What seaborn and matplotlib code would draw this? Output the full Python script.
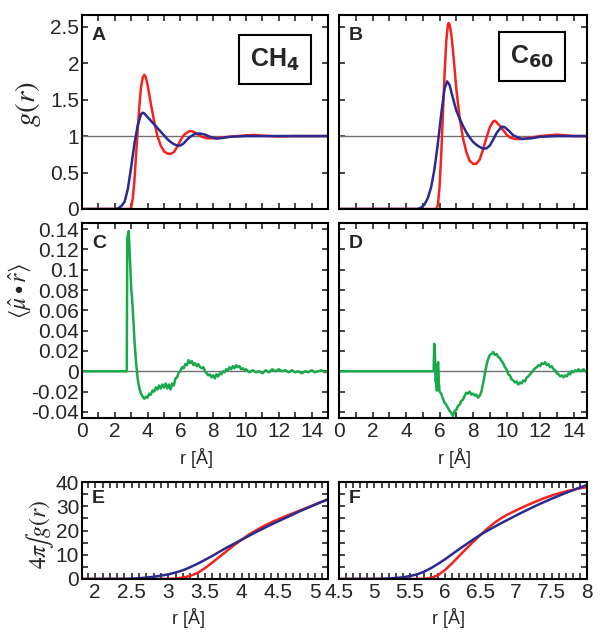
import matplotlib
matplotlib.use('Agg')
import matplotlib.pyplot as plt
import seaborn as sns
from matplotlib.ticker import MultipleLocator, FuncFormatter

sns.set_theme(style='ticks')
plt.rcParams['font.family'] = ['Liberation Sans', 'DejaVu Sans']
plt.rcParams.update({
    'axes.linewidth': 1.5,
    'axes.edgecolor': 'black',
    'xtick.direction': 'in',
    'ytick.direction': 'in',
    'xtick.top': True,
    'ytick.right': True,
    'xtick.major.size': 4.5,
    'ytick.major.size': 4.5,
    'xtick.minor.size': 4.5,
    'ytick.minor.size': 4.5,
    'xtick.major.width': 1.2,
    'ytick.major.width': 1.2,
    'xtick.minor.width': 1.2,
    'ytick.minor.width': 1.2,
    'xtick.labelsize': 15,
    'ytick.labelsize': 15,
    'xtick.major.pad': 3,
    'ytick.major.pad': 2,
})

RED = '#f5231e'
BLUE = '#2a2a90'
GREEN = '#1aa94a'
GREY = '#707070'

# --- panel A: g(r) CH4 ---
a_red_r = [0, 2.9, 3.0, 3.1, 3.2, 3.3, 3.4, 3.5, 3.6, 3.7, 3.8, 3.9, 4.0, 4.1, 4.2, 4.4, 4.6, 4.8,
           5.0, 5.2, 5.4, 5.6, 5.8, 6.0, 6.2, 6.4, 6.6, 6.8, 7.0, 7.3, 7.6, 8.0, 8.5, 9.0, 9.5,
           10.0, 10.5, 11.0, 12.0, 13.0, 14.0, 15.0]
a_red_g = [0, 0, 0.02, 0.15, 0.4, 0.75, 1.1, 1.42, 1.67, 1.8, 1.84, 1.8, 1.7, 1.57, 1.44, 1.2, 1.0, 0.87,
           0.79, 0.76, 0.755, 0.78, 0.85, 0.94, 1.01, 1.05, 1.07, 1.06, 1.03, 0.99, 0.97, 0.97, 0.98, 0.99, 1.0,
           1.01, 1.015, 1.005, 0.995, 1.0, 1.0, 1.0]
a_blue_r = [0, 2.0, 2.2, 2.4, 2.6, 2.8, 3.0, 3.2, 3.4, 3.6, 3.7, 3.8, 4.0, 4.2, 4.4, 4.6, 4.8, 5.0,
            5.2, 5.4, 5.6, 5.8, 6.0, 6.2, 6.4, 6.6, 6.8, 7.0, 7.2, 7.5, 7.8, 8.2, 8.6, 9.0, 10, 11,
            12, 13, 14, 15]
a_blue_g = [0, 0, 0.01, 0.04, 0.1, 0.28, 0.58, 0.9, 1.15, 1.3, 1.32, 1.31, 1.26, 1.21, 1.16, 1.11, 1.06, 1.01,
            0.96, 0.92, 0.89, 0.87, 0.87, 0.9, 0.95, 0.99, 1.02, 1.035, 1.035, 1.02, 0.99, 0.965, 0.975, 0.99, 1.0, 1.0,
            1.0, 1.0, 1.0, 1.0]

# --- panel B: g(r) C60 ---
b_red_r = [0, 5.8, 5.9, 6.0, 6.1, 6.2, 6.3, 6.4, 6.5, 6.55, 6.6, 6.7, 6.8, 6.9, 7.0, 7.2, 7.4, 7.6, 7.8,
           8.0, 8.2, 8.4, 8.6, 8.8, 9.0, 9.2, 9.3, 9.4, 9.6, 9.8, 10.0, 10.2, 10.5, 10.9, 11.5, 12.0,
           12.5, 13.0, 13.5, 14.0, 14.8]
b_red_g = [0, 0, 0.05, 0.3, 0.75, 1.3, 1.85, 2.3, 2.53, 2.55, 2.53, 2.4, 2.18, 1.92, 1.65, 1.25, 0.97, 0.78, 0.66,
           0.62, 0.62, 0.68, 0.82, 0.98, 1.12, 1.2, 1.21, 1.19, 1.14, 1.08, 1.02, 0.98, 0.96, 0.96, 0.98, 1.0,
           1.01, 1.02, 1.01, 1.0, 1.0]
b_blue_r = [0, 4.7, 4.9, 5.1, 5.3, 5.5, 5.7, 5.9, 6.1, 6.3, 6.45, 6.6, 6.8, 7.0, 7.2, 7.4, 7.6, 7.8,
            8.0, 8.2, 8.4, 8.6, 8.8, 9.0, 9.2, 9.4, 9.6, 9.75, 9.9, 10.1, 10.4, 10.9, 11.5, 12, 13, 14, 14.8]
b_blue_g = [0, 0, 0.02, 0.06, 0.15, 0.3, 0.55, 0.9, 1.3, 1.65, 1.75, 1.7, 1.52, 1.35, 1.24, 1.14, 1.05, 0.98,
            0.92, 0.88, 0.85, 0.83, 0.83, 0.87, 0.95, 1.04, 1.1, 1.13, 1.12, 1.08, 1.01, 0.96, 0.97, 0.99, 1.0, 1.0, 1.0]

# --- panel C: dipole orientation CH4 ---
c_r = [0, 2.73, 2.76, 2.8, 2.85, 2.9, 2.95, 3.0, 3.05, 3.1, 3.2, 3.3, 3.4, 3.5, 3.6, 3.7, 3.8, 3.9,
       4.0, 4.1, 4.2, 4.3, 4.4, 4.5, 4.6, 4.7, 4.8, 4.9, 5.0, 5.1, 5.2, 5.3, 5.4, 5.5, 5.6, 5.7,
       5.8, 5.9, 6.0, 6.1, 6.2, 6.3, 6.4, 6.5, 6.6, 6.7, 6.8, 6.9, 7.0, 7.1, 7.2, 7.3, 7.4, 7.5,
       7.6, 7.7, 7.8, 7.9, 8.0, 8.1, 8.2, 8.3, 8.4, 8.5, 8.6, 8.7, 8.8, 8.9, 9.0, 9.1, 9.2, 9.3,
       9.4, 9.5, 9.6, 9.7, 9.8, 9.9, 10.0, 10.2, 10.4, 10.6, 10.8, 11.0, 11.2, 11.4, 11.6, 11.8,
       12.0, 12.2, 12.4, 12.6, 12.8, 13.0, 13.2, 13.4, 13.6, 13.8, 14.0, 14.2, 14.4, 14.6, 14.8, 15.0]
c_mu = [0, 0, 0.13, 0.135, 0.138, 0.12, 0.10, 0.082, 0.072, 0.06, 0.03, 0.008, -0.008, -0.017, -0.022, -0.025, -0.027, -0.025,
        -0.026, -0.022, -0.023, -0.019, -0.020, -0.016, -0.018, -0.014, -0.017, -0.013, -0.016, -0.012, -0.017, -0.013, -0.018, -0.012, -0.014, -0.007,
        -0.006, -0.001, 0.0, 0.004, 0.003, 0.007, 0.006, 0.011, 0.008, 0.010, 0.006, 0.008, 0.005, 0.007, 0.004, 0.003, 0.004, 0.0,
        -0.002, -0.004, -0.003, -0.006, -0.004, -0.007, -0.003, -0.005, -0.002, -0.003, 0.0, -0.001, 0.002, 0.001, 0.004, 0.002, 0.005, 0.003,
        0.006, 0.004, 0.005, 0.002, 0.003, 0.001, 0.002, -0.001, 0.001, -0.001, 0.0, -0.002, 0.001, -0.001, 0.002, 0.0,
        0.002, 0.0, 0.001, -0.001, 0.001, -0.001, 0.0, -0.002, 0.0, -0.001, 0.001, -0.001, 0.0, 0.001, -0.001, 0.0]

# --- panel D: dipole orientation C60 ---
d_r = [0, 5.65, 5.68, 5.72, 5.76, 5.8, 5.84, 5.88, 5.92, 5.96, 6.0, 6.1, 6.2, 6.3, 6.4, 6.5, 6.6, 6.7,
       6.8, 6.9, 7.0, 7.1, 7.2, 7.3, 7.4, 7.5, 7.6, 7.7, 7.8, 7.9, 8.0, 8.1, 8.2, 8.3, 8.4, 8.5,
       8.6, 8.7, 8.8, 8.9, 9.0, 9.1, 9.2, 9.3, 9.4, 9.5, 9.6, 9.7, 9.8, 9.9, 10.0, 10.1, 10.2, 10.3,
       10.4, 10.5, 10.6, 10.7, 10.8, 10.9, 11.0, 11.1, 11.2, 11.3, 11.4, 11.5, 11.6, 11.7, 11.8, 11.9,
       12.0, 12.1, 12.2, 12.3, 12.4, 12.5, 12.6, 12.7, 12.8, 12.9, 13.0, 13.1, 13.2, 13.3, 13.4, 13.5,
       13.6, 13.7, 13.8, 13.9, 14.0, 14.1, 14.2, 14.3, 14.4, 14.5, 14.6, 14.7, 14.8]
d_mu = [0, 0, 0.027, 0.02, -0.01, -0.008, -0.019, 0.006, 0.009, -0.012, -0.02, -0.022, -0.027, -0.031, -0.033, -0.036, -0.039, -0.041,
        -0.044, -0.039, -0.038, -0.034, -0.033, -0.029, -0.028, -0.024, -0.021, -0.022, -0.020, -0.023, -0.022, -0.024, -0.023, -0.026, -0.024, -0.020,
        -0.012, -0.003, 0.006, 0.012, 0.016, 0.017, 0.019, 0.016, 0.017, 0.014, 0.013, 0.010, 0.008, 0.004, 0.002, -0.003, -0.004, -0.008,
        -0.009, -0.011, -0.010, -0.013, -0.011, -0.012, -0.009, -0.010, -0.006, -0.005, -0.003, -0.001, 0.001, 0.003, 0.004, 0.006,
        0.005, 0.008, 0.007, 0.009, 0.006, 0.007, 0.004, 0.005, 0.002, 0.001, -0.002, -0.003, -0.005, -0.004, -0.006, -0.004,
        -0.005, -0.002, -0.003, 0.0, -0.001, 0.001, 0.0, 0.002, 0.0, 0.001, 0.002, 0.0, 0.001]

# --- panel E: running integral CH4 ---
e_red_r = [1.8, 2.9, 3.0, 3.1, 3.2, 3.3, 3.4, 3.5, 3.6, 3.7, 3.8, 3.9, 4.0, 4.1, 4.2, 4.3, 4.4, 4.5,
           4.6, 4.7, 4.8, 4.9, 5.0, 5.1, 5.2]
e_red_n = [0, 0, 0.05, 0.2, 0.6, 1.3, 2.5, 4.5, 6.8, 9.2, 11.6, 14.0, 16.2, 18.3, 20.1, 21.8, 23.3, 24.6,
           25.9, 27.1, 28.3, 29.5, 30.7, 31.9, 33.0]
e_blue_r = [1.8, 2.4, 2.6, 2.8, 3.0, 3.1, 3.2, 3.3, 3.4, 3.5, 3.6, 3.7, 3.8, 3.9, 4.0, 4.1, 4.2, 4.3,
            4.4, 4.5, 4.6, 4.7, 4.8, 4.9, 5.0, 5.1, 5.2]
e_blue_n = [0, 0.05, 0.3, 0.9, 1.9, 2.7, 3.6, 4.9, 6.3, 7.9, 9.5, 11.3, 13.0, 14.6, 16.2, 17.8, 19.4, 20.9,
            22.4, 23.8, 25.2, 26.6, 28.0, 29.3, 30.6, 31.9, 33.1]

# --- panel F: running integral C60 ---
f_red_r = [4.5, 5.6, 5.7, 5.8, 5.9, 6.0, 6.1, 6.2, 6.3, 6.4, 6.5, 6.6, 6.7, 6.8, 6.9, 7.0, 7.1, 7.2,
           7.3, 7.4, 7.5, 7.6, 7.7, 7.8, 7.9, 8.0]
f_red_n = [0, 0, 0.1, 0.5, 1.6, 3.8, 6.6, 9.6, 12.6, 15.5, 18.3, 20.9, 23.3, 25.3, 26.9, 28.3, 29.7, 31.0,
           32.2, 33.4, 34.4, 35.3, 36.1, 36.8, 37.4, 37.9]
f_blue_r = [4.5, 5.0, 5.2, 5.4, 5.5, 5.6, 5.7, 5.8, 5.9, 6.0, 6.1, 6.2, 6.3, 6.4, 6.5, 6.6, 6.7, 6.8,
            6.9, 7.0, 7.1, 7.2, 7.3, 7.4, 7.5, 7.6, 7.7, 7.8, 7.9, 8.0]
f_blue_n = [0, 0.05, 0.2, 0.7, 1.2, 1.9, 3.0, 4.5, 6.3, 8.2, 10.3, 12.4, 14.4, 16.4, 18.3, 20.0, 21.6, 23.2,
            24.7, 26.2, 27.7, 29.1, 30.5, 31.8, 33.1, 34.3, 35.5, 36.6, 37.7, 38.8]

W, H = 601, 633
fig = plt.figure(figsize=(W / 100, H / 100), dpi=100)


def box(left, top, right, bottom):
    return [left / W, 1 - bottom / H, (right - left) / W, (bottom - top) / H]


axA = fig.add_axes(box(82, 15, 328, 209))
axB = fig.add_axes(box(339, 15, 587, 209))
axC = fig.add_axes(box(82, 223, 328, 418))
axD = fig.add_axes(box(339, 223, 587, 418))
axE = fig.add_axes(box(82, 482, 328, 579))
axF = fig.add_axes(box(339, 482, 587, 579))

fmt = FuncFormatter(lambda v, p: '%g' % round(v, 6))


def line(ax, x, y, color, lw=1.8):
    sns.lineplot(x=x, y=y, ax=ax, color=color, linewidth=lw, estimator=None, sort=False)


for ax, (rr, rg), (br, bg), xmax in [(axA, (a_red_r, a_red_g), (a_blue_r, a_blue_g), 15),
                                       (axB, (b_red_r, b_red_g), (b_blue_r, b_blue_g), 14.8)]:
    ax.axhline(1, color=GREY, lw=1.0, zorder=1)
    line(ax, rr, rg, RED)
    line(ax, br, bg, BLUE)
    ax.set_xlim(0, xmax)
    ax.set_ylim(0, 2.66)
    ax.xaxis.set_major_locator(MultipleLocator(1))
    ax.yaxis.set_major_locator(MultipleLocator(0.5))
    ax.tick_params(labelbottom=False)

axA.yaxis.set_major_formatter(fmt)
axB.tick_params(labelleft=False)

for ax, x, y, xmax in [(axC, c_r, c_mu, 15), (axD, d_r, d_mu, 14.8)]:
    ax.axhline(0, color=GREY, lw=1.0, zorder=1)
    line(ax, x, y, GREEN, lw=1.8)
    ax.set_xlim(0, xmax)
    ax.set_ylim(-0.046, 0.146)
    ax.xaxis.set_major_locator(MultipleLocator(2))
    ax.xaxis.set_minor_locator(MultipleLocator(1))
    ax.yaxis.set_major_locator(MultipleLocator(0.02))
    ax.xaxis.set_major_formatter(fmt)

axC.yaxis.set_major_formatter(fmt)
axD.tick_params(labelleft=False)

for ax, (rr, rn), (br, bn), xl, xr in [(axE, (e_red_r, e_red_n), (e_blue_r, e_blue_n), 1.82, 5.18),
                                         (axF, (f_red_r, f_red_n), (f_blue_r, f_blue_n), 4.5, 8.0)]:
    line(ax, rr, rn, RED)
    line(ax, br, bn, BLUE)
    ax.set_xlim(xl, xr)
    ax.set_ylim(0, 40)
    ax.xaxis.set_major_locator(MultipleLocator(0.5))
    ax.xaxis.set_minor_locator(MultipleLocator(0.1))
    ax.yaxis.set_major_locator(MultipleLocator(10))
    ax.yaxis.set_minor_locator(MultipleLocator(5))
    ax.xaxis.set_major_formatter(fmt)

axE.yaxis.set_major_formatter(fmt)
axF.tick_params(labelleft=False)

for ax in [axA, axB, axC, axD, axE, axF]:
    ax.set_xlabel('')
    ax.set_ylabel('')
    ax.tick_params(which='minor', direction='in', top=True, right=True)

# panel letters
for ax, letter, ypos in [(axA, 'A', 0.94), (axB, 'B', 0.94), (axC, 'C', 0.94),
                         (axD, 'D', 0.94), (axE, 'E', 0.92), (axF, 'F', 0.92)]:
    ax.text(0.04, ypos, letter, transform=ax.transAxes, ha='left', va='top',
            fontsize=14, fontweight='bold')

# molecule boxes
bbox = dict(boxstyle='square,pad=0.45', fc='white', ec='black', lw=1.5)
axA.text(0.785, 0.77, r'CH$_\mathbf{4}$', transform=axA.transAxes, ha='center', va='center',
         fontsize=18, fontweight='bold', math_fontfamily='dejavusans', bbox=bbox)
axB.text(0.778, 0.785, r'C$_\mathbf{60}$', transform=axB.transAxes, ha='center', va='center',
         fontsize=18, fontweight='bold', math_fontfamily='dejavusans', bbox=bbox)

# axis labels
fig.text(28 / W, 1 - 104 / H, r'$g(r)$', rotation=90, ha='center', va='center',
         fontsize=21, math_fontfamily='stix')
fig.text(20 / W, 1 - 291 / H, r'$\langle\hat{\mu}\bullet\hat{r}\rangle$', rotation=90,
         ha='center', va='center', fontsize=17, math_fontfamily='stix')
fig.text(40 / W, 1 - 534 / H, r'$4\pi\!\int g(r)$', rotation=90, ha='center', va='center',
         fontsize=17, math_fontfamily='stix')
for xc, yc in [(196, 458), (454, 458), (189, 618), (448, 618)]:
    fig.text(xc / W, 1 - yc / H, 'r [Å]', ha='center', va='center', fontsize=13)

fig.savefig('out.png', dpi=100)
